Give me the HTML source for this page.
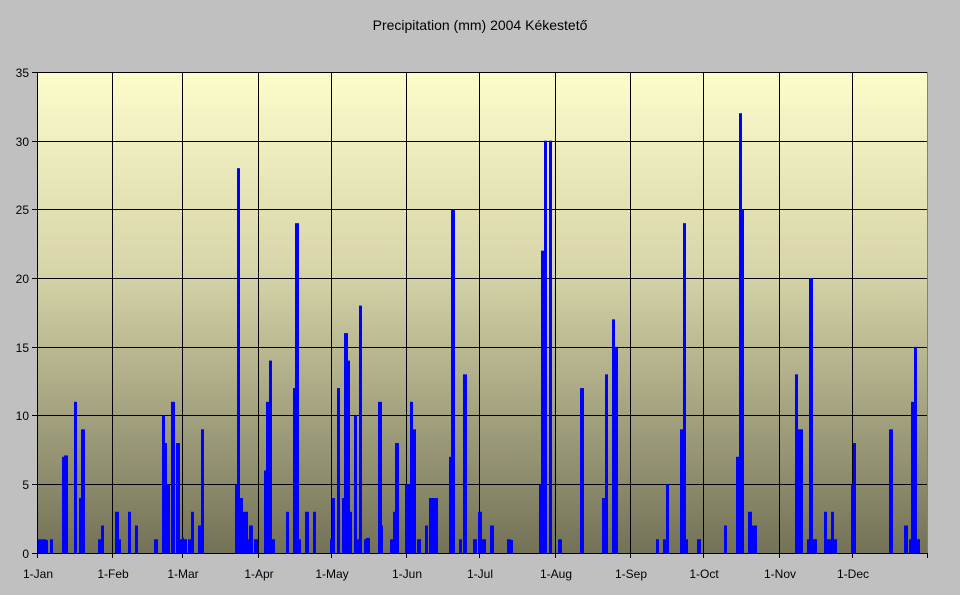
<!DOCTYPE html>
<html><head><meta charset="utf-8"><style>
html,body{margin:0;padding:0;background:#c0c0c0;}
svg{display:block;font-family:"Liberation Sans",sans-serif;}
</style></head><body>
<svg width="960" height="595" viewBox="0 0 960 595" xmlns="http://www.w3.org/2000/svg">
<defs><linearGradient id="g" x1="0" y1="0" x2="0" y2="1">
<stop offset="0" stop-color="#fdfccb"/><stop offset="0.4" stop-color="#d8d6aa"/><stop offset="1" stop-color="#737257"/></linearGradient></defs>
<rect width="960" height="595" fill="#c0c0c0"/>
<text x="480" y="30" text-anchor="middle" font-size="14" fill="#000">Precipitation (mm) 2004 Kékestető</text>
<rect x="37" y="72" width="890" height="481" fill="url(#g)"/>
<g stroke="#000" stroke-width="1">
<line x1="37" y1="72.5" x2="927" y2="72.5"/><line x1="37" y1="141.5" x2="927" y2="141.5"/>
<line x1="37" y1="209.5" x2="927" y2="209.5"/><line x1="37" y1="278.5" x2="927" y2="278.5"/>
<line x1="37" y1="347.5" x2="927" y2="347.5"/><line x1="37" y1="415.5" x2="927" y2="415.5"/>
<line x1="37" y1="484.5" x2="927" y2="484.5"/>
<line x1="112.5" y1="72" x2="112.5" y2="553"/><line x1="182.5" y1="72" x2="182.5" y2="553"/>
<line x1="258.5" y1="72" x2="258.5" y2="553"/><line x1="331.5" y1="72" x2="331.5" y2="553"/>
<line x1="406.5" y1="72" x2="406.5" y2="553"/><line x1="479.5" y1="72" x2="479.5" y2="553"/>
<line x1="555.5" y1="72" x2="555.5" y2="553"/><line x1="630.5" y1="72" x2="630.5" y2="553"/>
<line x1="703.5" y1="72" x2="703.5" y2="553"/><line x1="779.5" y1="72" x2="779.5" y2="553"/>
<line x1="852.5" y1="72" x2="852.5" y2="553"/>
</g>
<line x1="927.5" y1="72" x2="927.5" y2="553" stroke="#808080"/>
<g fill="#0000ff" transform="translate(0,553) scale(1,-13.743)">
<rect x="37" width="3" height="1"/><rect x="40" width="2" height="1"/><rect x="42" width="4" height="1"/><rect x="46" width="2" height="0.95"/><rect x="50" width="3" height="1"/>
<rect x="62" width="2" height="7"/><rect x="64" width="4" height="7.1"/><rect x="74" width="3" height="11"/><rect x="79" width="2" height="4"/><rect x="81" width="4" height="9"/>
<rect x="98" width="3" height="1"/><rect x="101" width="3" height="2"/>
<rect x="115" width="4" height="3"/><rect x="118" width="3" height="1"/><rect x="128" width="3" height="3"/><rect x="135" width="3" height="2"/>
<rect x="154" width="4" height="1"/><rect x="162" width="3" height="10"/><rect x="164" width="3" height="8"/><rect x="167" width="3" height="5"/><rect x="171" width="4" height="11"/><rect x="176" width="4" height="8"/><rect x="180" width="2" height="1"/><rect x="182" width="2" height="1.1"/><rect x="184" width="3" height="1"/><rect x="188" width="3" height="1"/><rect x="191" width="3" height="3"/><rect x="198" width="3" height="2"/><rect x="201" width="3" height="9"/>
<rect x="235" width="2.5" height="5"/><rect x="237" width="3" height="28"/><rect x="240" width="3" height="4"/><rect x="242" width="2" height="3"/><rect x="244" width="4" height="3"/><rect x="247" width="2" height="1"/><rect x="249" width="4" height="2"/><rect x="254" width="4" height="1"/>
<rect x="264" width="2" height="6"/><rect x="266" width="3" height="11"/><rect x="269" width="3" height="14"/><rect x="272" width="3" height="1"/><rect x="286" width="3" height="3"/><rect x="293" width="2" height="12"/><rect x="295" width="4" height="24"/><rect x="299" width="2" height="1"/><rect x="305" width="4" height="3"/><rect x="313" width="3" height="3"/>
<rect x="330" width="2" height="1"/><rect x="332" width="3" height="4"/><rect x="337" width="3" height="12"/><rect x="342" width="2" height="4"/><rect x="344" width="4" height="16"/><rect x="348" width="2" height="14"/><rect x="350" width="2" height="3"/><rect x="354" width="3" height="10"/><rect x="357" width="2" height="1"/><rect x="359" width="3" height="18"/><rect x="364" width="2" height="1"/><rect x="366" width="4" height="1.1"/>
<rect x="378" width="4" height="11"/><rect x="381" width="2" height="2"/><rect x="390" width="3" height="1"/><rect x="393" width="2" height="3"/><rect x="395" width="4" height="8"/><rect x="405" width="2" height="5"/><rect x="407" width="3" height="5"/><rect x="410" width="3" height="11"/><rect x="413" width="3" height="9"/><rect x="417" width="4" height="1"/>
<rect x="420" width="1" height="1"/><rect x="425" width="3" height="2"/><rect x="429" width="4" height="4"/><rect x="433" width="5" height="4"/><rect x="449" width="2" height="7"/><rect x="451" width="4" height="25"/><rect x="459" width="3" height="1"/><rect x="463" width="4" height="13"/>
<rect x="473" width="4" height="1"/><rect x="478" width="4" height="3"/><rect x="482" width="4" height="1"/><rect x="490" width="4" height="2"/><rect x="507" width="4" height="1"/><rect x="511" width="2" height="0.95"/>
<rect x="539" width="2" height="5"/><rect x="541" width="3" height="22"/><rect x="544" width="3" height="30"/><rect x="549" width="3" height="30"/><rect x="558" width="4" height="1"/><rect x="580" width="4" height="12"/><rect x="602" width="3" height="4"/><rect x="605" width="3" height="13"/><rect x="612" width="3" height="17"/><rect x="615" width="3" height="15"/>
<rect x="656" width="3" height="1"/><rect x="663" width="3" height="1"/><rect x="666" width="3" height="5"/><rect x="680" width="3" height="9"/><rect x="683" width="3" height="24"/><rect x="686" width="2" height="1"/><rect x="697" width="4" height="1"/>
<rect x="724" width="3" height="2"/><rect x="736" width="3" height="7"/><rect x="739" width="3" height="32"/><rect x="742" width="2" height="25"/><rect x="748" width="4" height="3"/><rect x="752" width="5" height="2"/>
<rect x="795" width="3" height="13"/><rect x="798" width="5" height="9"/><rect x="807" width="3" height="1"/><rect x="809" width="4" height="20"/><rect x="813" width="4" height="1"/><rect x="824" width="3" height="3"/><rect x="827" width="4" height="1"/><rect x="831" width="3" height="3"/><rect x="834" width="3" height="1"/>
<rect x="851" width="2" height="5"/><rect x="853" width="3" height="8"/><rect x="889" width="4" height="9"/><rect x="904" width="4" height="2"/><rect x="909" width="2" height="1"/><rect x="911" width="3" height="11"/><rect x="914" width="3" height="15"/><rect x="917" width="3" height="1"/>
</g>
<line x1="37" y1="553.5" x2="927" y2="553.5" stroke="#000"/>
<line x1="37.5" y1="72" x2="37.5" y2="558" stroke="#000"/>
<g stroke="#000">
<line x1="32" y1="72.5" x2="37" y2="72.5"/><line x1="32" y1="141.5" x2="37" y2="141.5"/><line x1="32" y1="209.5" x2="37" y2="209.5"/><line x1="32" y1="278.5" x2="37" y2="278.5"/><line x1="32" y1="347.5" x2="37" y2="347.5"/><line x1="32" y1="415.5" x2="37" y2="415.5"/><line x1="32" y1="484.5" x2="37" y2="484.5"/><line x1="32" y1="553.5" x2="37" y2="553.5"/>
<line x1="112.5" y1="553" x2="112.5" y2="558"/><line x1="182.5" y1="553" x2="182.5" y2="558"/><line x1="258.5" y1="553" x2="258.5" y2="558"/><line x1="331.5" y1="553" x2="331.5" y2="558"/><line x1="406.5" y1="553" x2="406.5" y2="558"/><line x1="479.5" y1="553" x2="479.5" y2="558"/><line x1="555.5" y1="553" x2="555.5" y2="558"/><line x1="630.5" y1="553" x2="630.5" y2="558"/><line x1="703.5" y1="553" x2="703.5" y2="558"/><line x1="779.5" y1="553" x2="779.5" y2="558"/><line x1="852.5" y1="553" x2="852.5" y2="558"/><line x1="927.5" y1="553" x2="927.5" y2="558"/>
</g>
<g font-size="12" fill="#000" text-anchor="end">
<text x="29" y="77">35</text><text x="29" y="146">30</text><text x="29" y="214">25</text><text x="29" y="283">20</text><text x="29" y="352">15</text><text x="29" y="420">10</text><text x="29" y="489">5</text><text x="29" y="558">0</text>
</g>
<g font-size="12" fill="#000" text-anchor="middle">
<text x="38" y="578">1-Jan</text><text x="113" y="578">1-Feb</text><text x="183" y="578">1-Mar</text><text x="259" y="578">1-Apr</text><text x="332" y="578">1-May</text><text x="407" y="578">1-Jun</text><text x="480" y="578">1-Jul</text><text x="556" y="578">1-Aug</text><text x="631" y="578">1-Sep</text><text x="704" y="578">1-Oct</text><text x="780" y="578">1-Nov</text><text x="853" y="578">1-Dec</text>
</g>
</svg>
</body></html>
